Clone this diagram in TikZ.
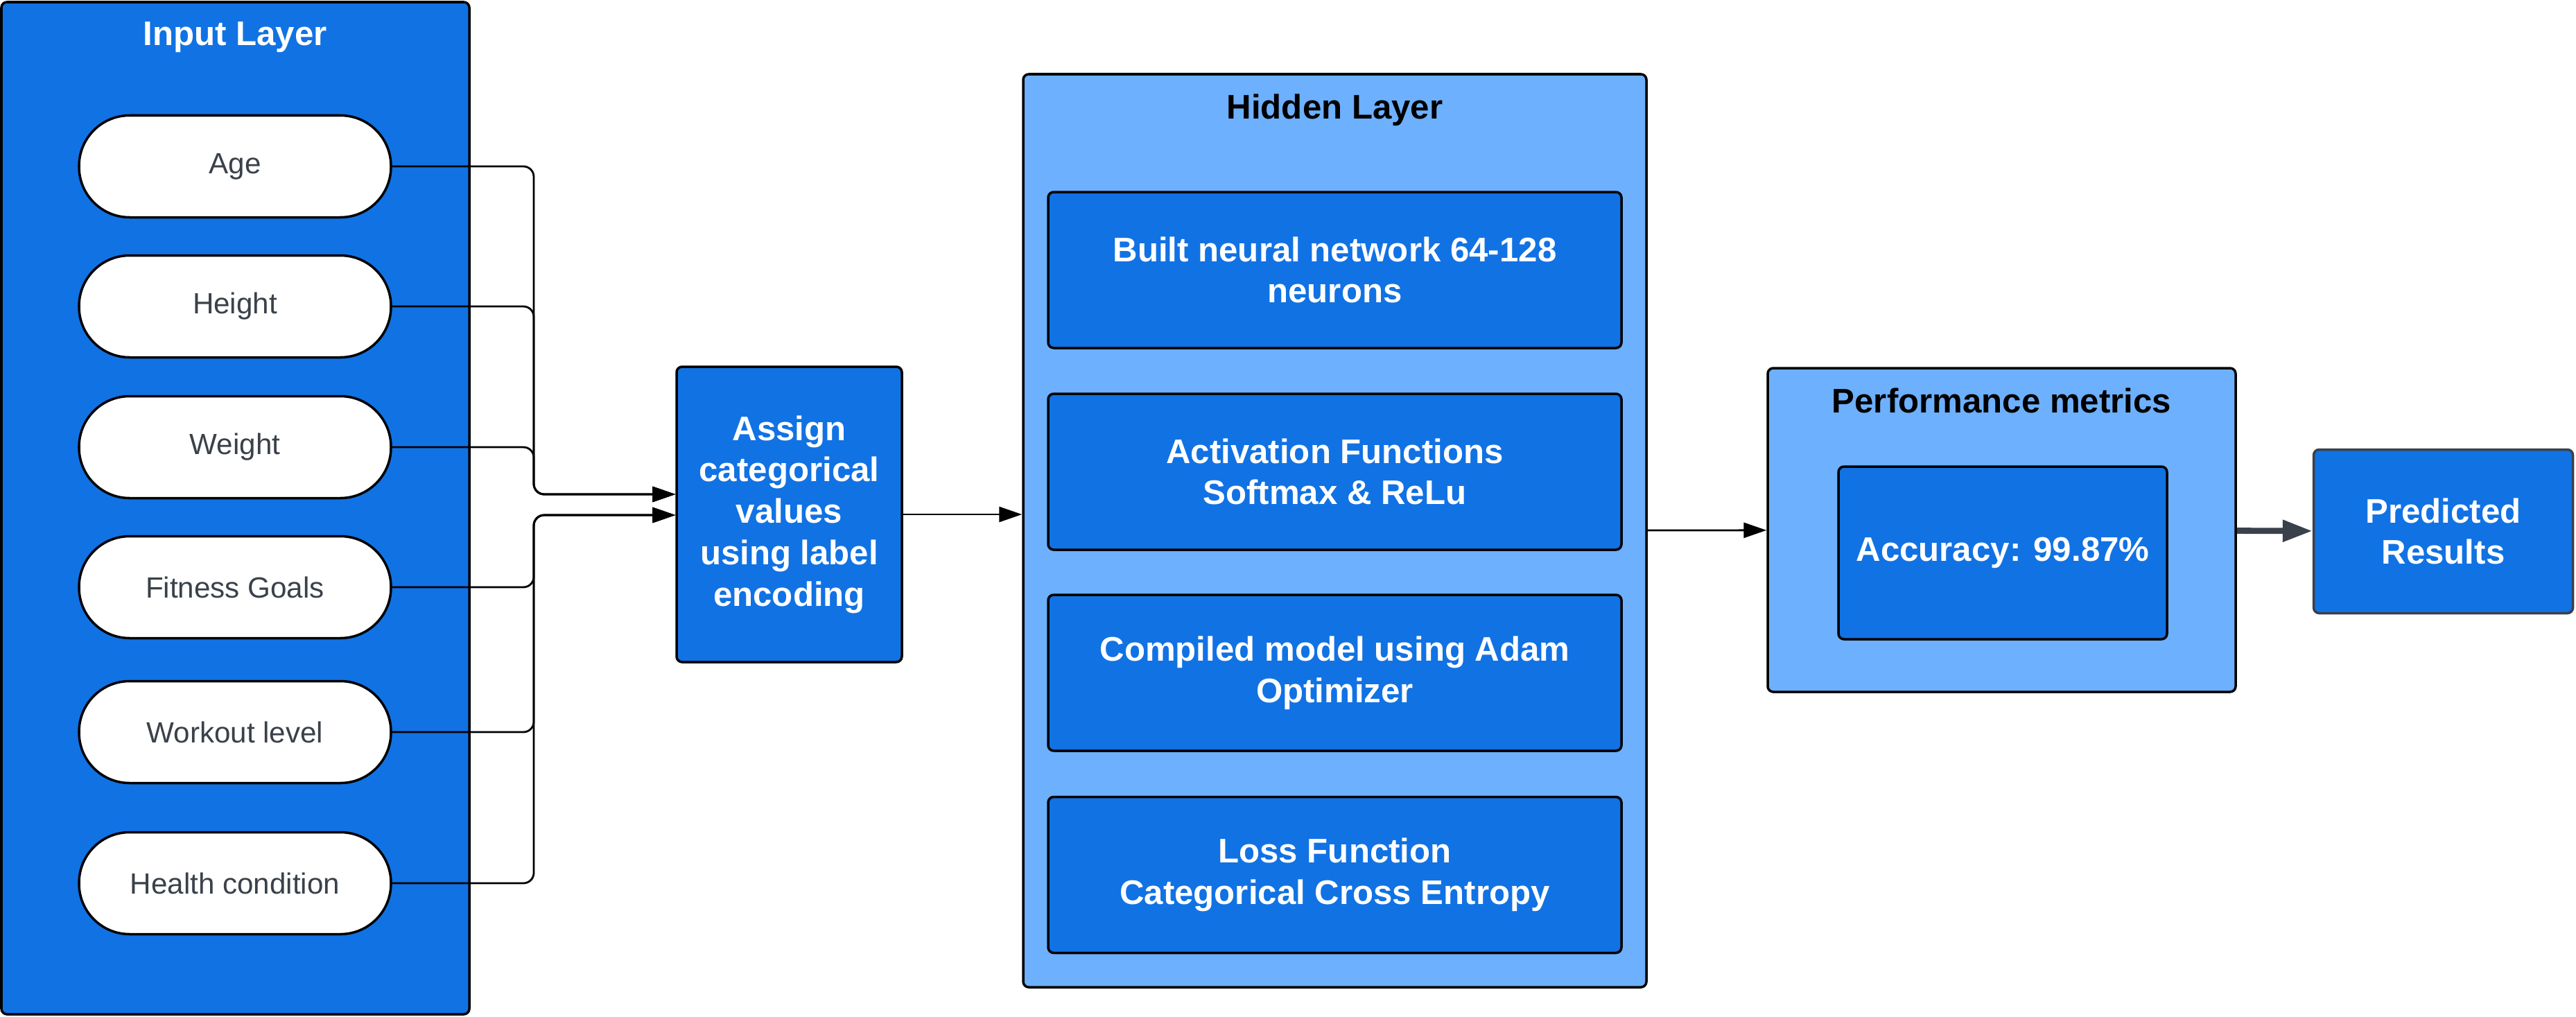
\documentclass[tikz,border=0pt]{standalone}
\usepackage{fontspec}
\setmainfont{Liberation Sans}
\usetikzlibrary{arrows.meta,positioning}
\definecolor{darkblue}{RGB}{17,114,228}
\definecolor{lightblue}{RGB}{109,176,253}
\definecolor{slate}{RGB}{58,65,74}
\tikzset{
  layer/.style={draw=black,line width=1pt,rounded corners=0.8mm,inner sep=0pt},
  title/.style={anchor=base,font=\fontsize{14}{17}\selectfont\bfseries},
  pill/.style={draw=black,line width=1pt,fill=white,rounded corners=7.3mm,minimum width=4.5cm,minimum height=1.47cm,inner sep=0pt,text=slate,font=\fontsize{12}{14}\selectfont},
  stepbox/.style={draw=black,line width=1pt,fill=darkblue,rounded corners=0.8mm,text=white,align=center,inner sep=0pt,font=\fontsize{14}{17}\selectfont\bfseries},
  conn/.style={line width=0.8pt,rounded corners=1.5mm,-{Triangle[length=3.3mm,width=2.2mm]}},
}
\begin{document}
\begin{tikzpicture}
\useasboundingbox (0,0) rectangle (37.16,-14.66);
% Input layer
\node[layer,fill=darkblue,minimum width=6.75cm,minimum height=14.6cm] (input) at (3.395,-7.33) {};
\node[title,text=white] (inputtitle) at (3.39,-0.65) {Input Layer};
\node[pill] (age) at (3.39,-2.40) {Age};
\node[pill] (height) at (3.39,-4.42) {Height};
\node[pill] (weight) at (3.39,-6.45) {Weight};
\node[pill] (goals) at (3.39,-8.47) {Fitness Goals};
\node[pill] (workout) at (3.39,-10.56) {Workout level};
\node[pill] (health) at (3.39,-12.74) {Health condition};

% Label encoding
\node[stepbox,minimum width=3.25cm,minimum height=4.26cm] (assign) at (11.385,-7.42) {Assign\\categorical\\values\\using label\\encoding};

%Bus to the encoder, two entries
\coordinate (busup) at (7.70,-7.13);
\coordinate (buslow) at (7.70,-7.43);
\draw[conn] (age.east) -| (busup) -- (assign.west |- busup);
\draw[conn] (height.east) -| (busup) -- (assign.west |- busup);
\draw[conn] (weight.east) -| (busup) -- (assign.west |- busup);
\draw[conn] (goals.east) -| (buslow) -- (assign.west |- buslow);
\draw[conn] (workout.east) -| (buslow) -- (assign.west |- buslow);
\draw[conn] (health.east) -| (buslow) -- (assign.west |- buslow);

% Hidden layer
\node[layer,fill=lightblue,minimum width=8.99cm,minimum height=13.17cm] (hidden) at (19.255,-7.655) {};
\node[title] (hiddentitle) at (19.255,-1.71) {Hidden Layer};
\node[stepbox,minimum width=8.27cm,minimum height=2.25cm] (built) at (19.255,-3.895) {Built neural network 64-128\\neurons};
\node[stepbox,minimum width=8.27cm,minimum height=2.25cm] (activ) at (19.255,-6.805) {Activation Functions\\Softmax \& ReLu};
\node[stepbox,minimum width=8.27cm,minimum height=2.25cm] (compiled) at (19.255,-9.705) {Compiled model using Adam\\Optimizer};
\node[stepbox,minimum width=8.27cm,minimum height=2.25cm] (loss) at (19.255,-12.62) {Loss Function\\Categorical Cross Entropy};
\draw[conn] (assign.east) -- (assign.east -| hidden.west);

% Performance metrics
\node[layer,fill=lightblue,minimum width=6.75cm,minimum height=4.67cm] (perf) at (28.875,-7.645) {};
\node[title] (perftitle) at (28.875,-5.95) {Performance metrics};
\node[stepbox,minimum width=4.74cm,minimum height=2.49cm] (acc) at (28.89,-7.975) {Accuracy: 99.87\%};
\draw[conn] (hidden) -- (perf);

% Result
\node[stepbox,draw=slate,minimum width=3.74cm,minimum height=2.36cm] (pred) at (35.245,-7.665) {Predicted\\Results};
\draw[line width=2.5pt,slate,-{Triangle[length=4.3mm,width=3mm]}] (perf) -- (pred);
\end{tikzpicture}
\end{document}
